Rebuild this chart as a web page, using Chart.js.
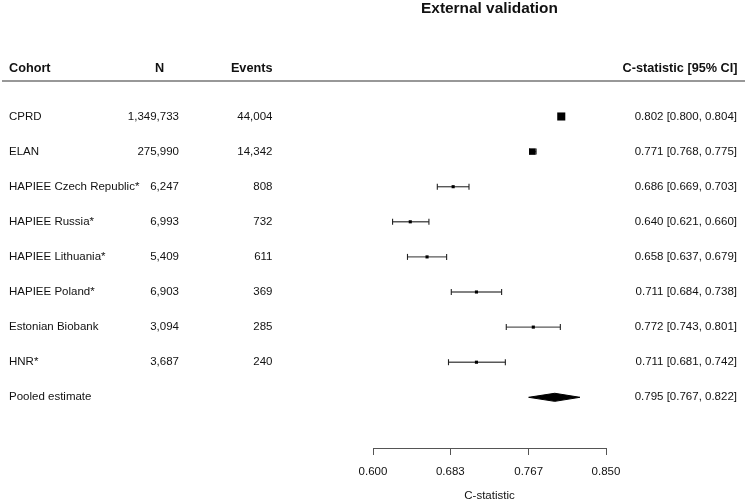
<!DOCTYPE html>
<html>
<head>
<meta charset="utf-8">
<script src="https://cdn.jsdelivr.net/npm/chart.js@4"></script>
<style>
  html, body { margin: 0; padding: 0; background: #fff; }
  #wrap { width: 747px; height: 501px; position: relative; }
</style>
</head>
<body>
<div id="wrap"><canvas id="c" width="747" height="501"></canvas></div>
<script>
// ---- data ----
const cohorts = ['CPRD', 'ELAN', 'HAPIEE Czech Republic*', 'HAPIEE Russia*', 'HAPIEE Lithuania*', 'HAPIEE Poland*', 'Estonian Biobank', 'HNR*'];
const nValues = [1349733, 275990, 6247, 6993, 5409, 6903, 3094, 3687];
const events = [44004, 14342, 808, 732, 611, 369, 285, 240];
const cEst = [0.802, 0.771, 0.686, 0.640, 0.658, 0.711, 0.772, 0.711];
const cLow = [0.800, 0.768, 0.669, 0.621, 0.637, 0.684, 0.743, 0.681];
const cHigh = [0.804, 0.775, 0.703, 0.660, 0.679, 0.738, 0.801, 0.742];
const pooledLabel = 'Pooled estimate';
const pooledEst = 0.795;
const pooledLow = 0.767;
const pooledHigh = 0.822;
const tickValues = [0.600, 0.683, 0.767, 0.850];

// ---- styles ----
const FONT = "'Liberation Sans', Arial, Helvetica, sans-serif";
Chart.defaults.font.family = FONT;
const markerRadius = [5.7, 4.6, 2.2, 2.2, 2.2, 2.2, 2.2, 2.2];
const pooledRow = cohorts.length;
const diamondHalf = 0.115;

const fmtInt = v => v.toLocaleString('en-US');
const fmtCI = (e, l, h) => e.toFixed(3) + ' [' + l.toFixed(3) + ', ' + h.toFixed(3) + ']';

const datasets = [];
datasets.push({
  label: 'estimates',
  data: cEst.map((v, i) => ({ x: v, y: i })),
  showLine: false,
  pointStyle: 'rect',
  pointRadius: markerRadius,
  pointBackgroundColor: '#000',
  pointBorderWidth: 0,
  pointBorderColor: '#000'
});
cohorts.forEach((c, i) => {
  datasets.push({
    label: 'ci-' + c,
    data: [{ x: cLow[i], y: i }, { x: cHigh[i], y: i }],
    showLine: true,
    borderColor: '#585858',
    borderWidth: 1.4,
    pointStyle: 'line',
    rotation: 90,
    pointRadius: 3,
    pointBorderColor: '#222',
    pointBorderWidth: 1.1,
    pointBackgroundColor: '#222'
  });
});
datasets.push({
  label: 'pooled',
  data: [
    { x: pooledLow, y: pooledRow },
    { x: pooledEst, y: pooledRow - diamondHalf },
    { x: pooledHigh, y: pooledRow },
    { x: pooledEst, y: pooledRow + diamondHalf },
    { x: pooledLow, y: pooledRow }
  ],
  showLine: true,
  fill: 'shape',
  tension: 0,
  borderColor: '#000',
  borderWidth: 1,
  backgroundColor: '#000',
  pointRadius: 0
});

const tablePlugin = {
  id: 'table',
  afterDraw(chart) {
    const ctx = chart.ctx;
    const y = chart.scales.y;
    ctx.save();
    ctx.fillStyle = '#111';
    ctx.textBaseline = 'middle';
    // header
    ctx.font = 'bold 12.7px ' + FONT;
    const hy = 68.5;
    ctx.textAlign = 'left'; ctx.fillText('Cohort', 9, hy);
    ctx.textAlign = 'center'; ctx.fillText('N', 159.5, hy);
    ctx.textAlign = 'right'; ctx.fillText('Events', 272.5, hy);
    ctx.textAlign = 'right'; ctx.fillText('C-statistic [95% CI]', 737.5, hy);
    ctx.strokeStyle = '#333';
    ctx.lineWidth = 1.2;
    ctx.beginPath(); ctx.moveTo(2, 81); ctx.lineTo(745, 81); ctx.stroke();
    // rows
    ctx.font = '11.5px ' + FONT;
    cohorts.forEach((c, i) => {
      const py = y.getPixelForValue(i);
      ctx.textAlign = 'left'; ctx.fillText(c, 9, py);
      ctx.textAlign = 'right'; ctx.fillText(fmtInt(nValues[i]), 179, py);
      ctx.fillText(fmtInt(events[i]), 272.5, py);
      ctx.fillText(fmtCI(cEst[i], cLow[i], cHigh[i]), 737, py);
    });
    const pp = y.getPixelForValue(pooledRow);
    ctx.textAlign = 'left'; ctx.fillText(pooledLabel, 9, pp);
    ctx.textAlign = 'right'; ctx.fillText(fmtCI(pooledEst, pooledLow, pooledHigh), 737, pp);
    ctx.restore();
  }
};

new Chart(document.getElementById('c'), {
  type: 'scatter',
  data: { datasets },
  plugins: [tablePlugin],
  options: {
    responsive: false,
    animation: false,
    devicePixelRatio: 1,
    layout: { padding: { left: 373, right: 141, top: 1, bottom: 0 } },
    plugins: {
      legend: { display: false },
      tooltip: { enabled: false },
      title: {
        display: true,
        text: 'External validation',
        color: '#111',
        font: { size: 15.4, weight: 'bold', lineHeight: 1 },
        padding: { top: 0, bottom: 68.6 }
      }
    },
    scales: {
      x: {
        type: 'linear',
        min: tickValues[0],
        max: tickValues[tickValues.length - 1],
        afterBuildTicks: s => { s.ticks = tickValues.map(v => ({ value: v })); },
        afterFit: s => { s.height = 53; },
        grid: { display: true, drawOnChartArea: false, drawTicks: true, tickLength: 7, color: '#555', lineWidth: 1 },
        border: { display: true, color: '#555', width: 1 },
        ticks: {
          color: '#111',
          padding: 10,
          font: { size: 11.5 },
          maxRotation: 0,
          callback: v => Number(v).toFixed(3)
        },
        title: {
          display: true,
          text: 'C-statistic',
          color: '#111',
          font: { size: 11.5, lineHeight: 1 },
          padding: { top: 0, bottom: -1 }
        }
      },
      y: {
        type: 'linear',
        display: false,
        reverse: true,
        min: -0.897,
        max: 9.444
      }
    }
  }
});
</script>
</body>
</html>
